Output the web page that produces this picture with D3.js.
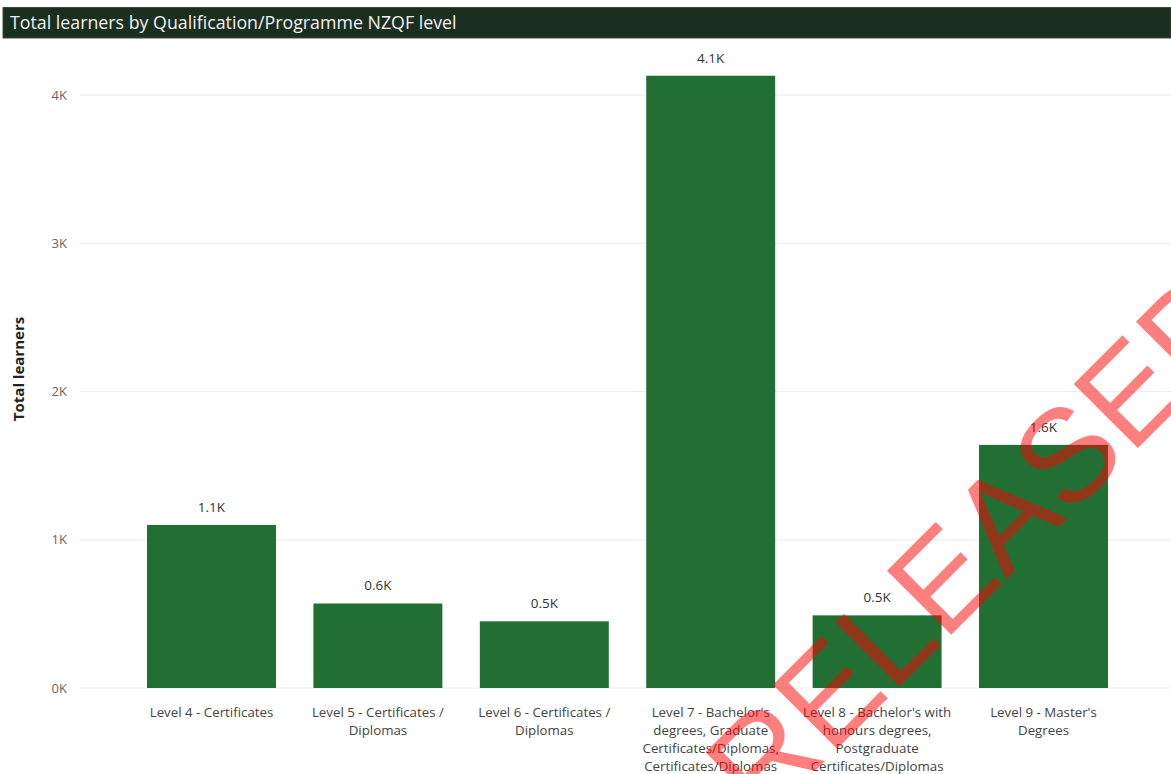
<!DOCTYPE html>
<html><head><meta charset="utf-8">
<script src="https://cdn.jsdelivr.net/npm/d3@7"></script>
<style>
html,body{margin:0;padding:0;background:#fff;}
svg{display:block;font-family:"Open Sans","Noto Sans",sans-serif;}
</style></head>
<body>
<svg id="chart" width="1171" height="774"></svg>
<script>
const title = "Total learners by Qualification/Programme NZQF level";
const yAxisTitle = "Total learners";
const categories = [
  "Level 4 - Certificates",
  "Level 5 - Certificates / Diplomas",
  "Level 6 - Certificates / Diplomas",
  "Level 7 - Bachelor's degrees, Graduate Certificates/Diplomas, Certificates/Diplomas",
  "Level 8 - Bachelor's with honours degrees, Postgraduate Certificates/Diplomas",
  "Level 9 - Master's Degrees"
];
const categoryLines = [
  ["Level 4 - Certificates"],
  ["Level 5 - Certificates /", "Diplomas"],
  ["Level 6 - Certificates /", "Diplomas"],
  ["Level 7 - Bachelor's", "degrees, Graduate", "Certificates/Diplomas,", "Certificates/Diplomas"],
  ["Level 8 - Bachelor's with", "honours degrees,", "Postgraduate", "Certificates/Diplomas"],
  ["Level 9 - Master's", "Degrees"]
];
const learners = [1100, 570, 450, 4130, 490, 1640];
const dataLabels = ["1.1K", "0.6K", "0.5K", "4.1K", "0.5K", "1.6K"];
const yTicks = [0, 1000, 2000, 3000, 4000];
const yTickLabels = ["0K", "1K", "2K", "3K", "4K"];
const watermark = "RELEASED";

const svg = d3.select("#chart");
const W = 1171, H = 774;

// title bar
svg.append("rect").attr("x", 3).attr("y", 7.5).attr("width", W - 3).attr("height", 30.5)
  .attr("fill", "#1b2f20").attr("stroke", "#3a4a3d").attr("stroke-width", 1);
svg.append("text").attr("x", 10).attr("y", 29).attr("fill", "#f2f2f2")
  .attr("font-size", 17.8).text(title);

const y = d3.scaleLinear().domain([0, 4000]).range([688, 95]);
const x = d3.scaleBand().domain(categories).range([128.3, 1126.7])
  .paddingInner(0.225).paddingOuter(0.1125);

// gridlines
svg.append("g").selectAll("line").data(yTicks).join("line")
  .attr("x1", 80).attr("x2", W)
  .attr("y1", d => y(d)).attr("y2", d => y(d))
  .attr("stroke", "#ececec").attr("stroke-width", 1);

// y axis labels
const yAxis = d3.axisLeft(y).tickValues(yTicks)
  .tickFormat((d, i) => yTickLabels[i]).tickSize(0).tickPadding(0);
const gy = svg.append("g").attr("transform", "translate(67,0)").call(yAxis);
gy.select(".domain").remove();
gy.selectAll("text").attr("fill", "#666").attr("font-size", 13)
  .attr("font-family", "'Open Sans','Noto Sans',sans-serif");

// y axis title
svg.append("text").attr("transform", "translate(24,369) rotate(-90)")
  .attr("text-anchor", "middle").attr("font-weight", "bold")
  .attr("font-size", 15).attr("fill", "#222").text(yAxisTitle);

// bars
svg.append("g").selectAll("rect").data(categories).join("rect")
  .attr("x", d => x(d)).attr("width", x.bandwidth())
  .attr("y", (d, i) => y(learners[i]))
  .attr("height", (d, i) => y(0) - y(learners[i]))
  .attr("fill", "#226f33");

// data labels
svg.append("g").selectAll("text").data(categories).join("text")
  .attr("x", d => x(d) + x.bandwidth() / 2)
  .attr("y", (d, i) => y(learners[i]) - 13)
  .attr("text-anchor", "middle").attr("font-size", 13.5).attr("fill", "#333")
  .text((d, i) => dataLabels[i]);

// x axis labels
const xAxis = d3.axisBottom(x).tickSize(0).tickFormat("");
const gx = svg.append("g").attr("transform", "translate(0,688)").call(xAxis);
gx.select(".domain").remove();
gx.selectAll(".tick").each(function(d, i) {
  const t = d3.select(this).append("text")
    .attr("text-anchor", "middle").attr("font-size", 13.3).attr("fill", "#444")
    .attr("font-family", "'Open Sans','Noto Sans',sans-serif");
  categoryLines[i].forEach((ln, j) => {
    t.append("tspan").attr("x", 0).attr("y", 29 + j * 18).text(ln);
  });
});

// watermark
svg.append("text").attr("transform", "translate(1011,575) rotate(-45)")
  .attr("text-anchor", "middle")
  .attr("font-family", "'Liberation Sans',Arial,sans-serif")
  .attr("font-size", 132).attr("fill", "rgba(255,0,0,0.5)")
  .text(watermark);
</script>
</body></html>
